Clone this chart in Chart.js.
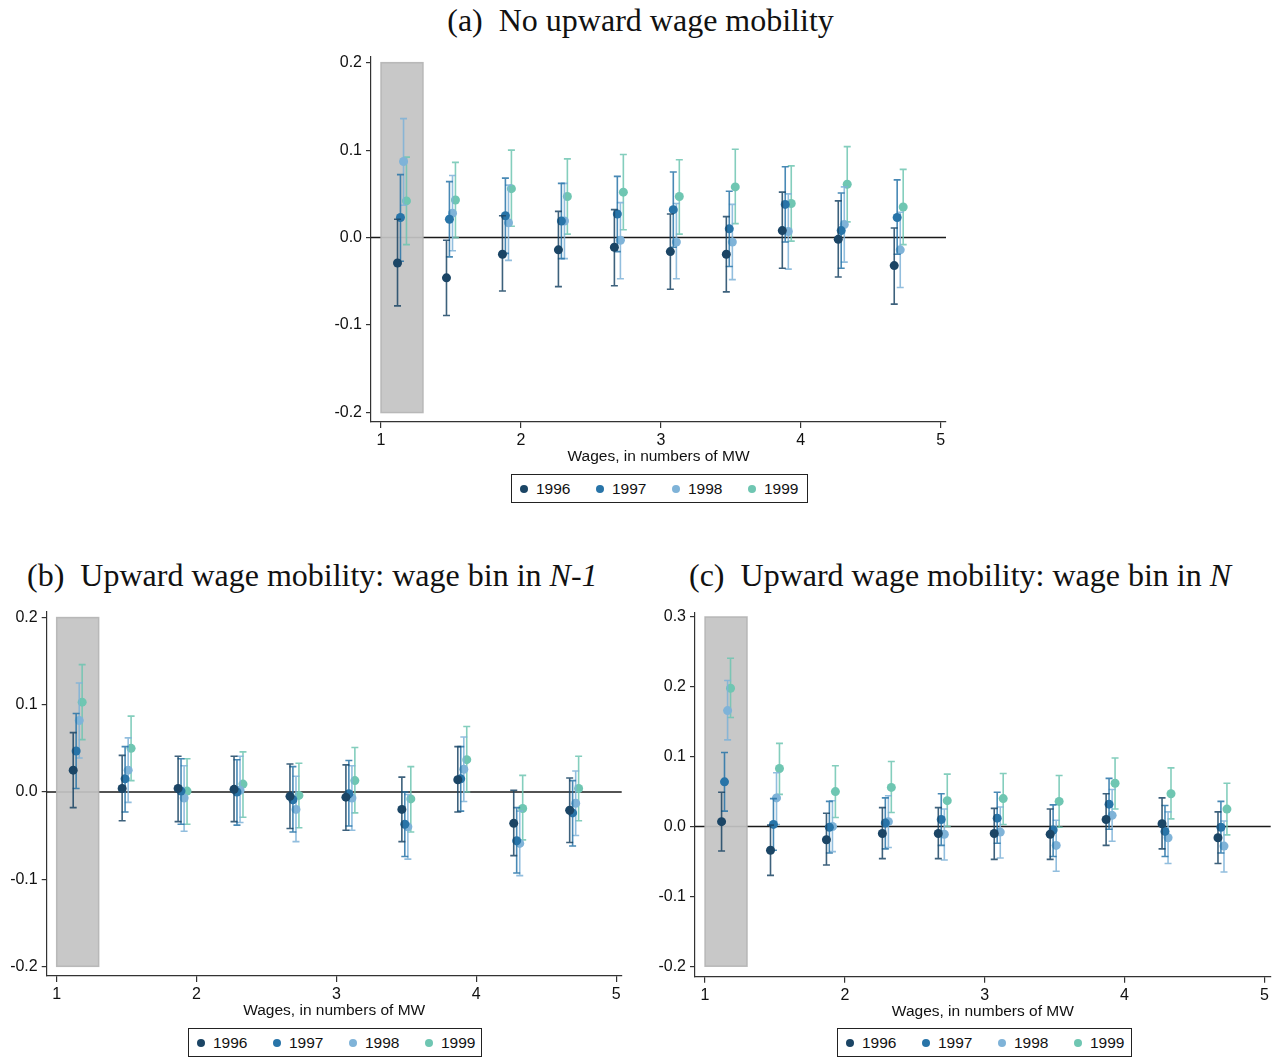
<!DOCTYPE html>
<html>
<head>
<meta charset="utf-8">
<script src="https://cdn.jsdelivr.net/npm/chart.js@4.4.1/dist/chart.umd.min.js"></script>
<style>
    body { margin: 0; background: #fff; width: 1281px; height: 1057px; position: relative; overflow: hidden; }
    canvas { position: absolute; }
    .title { position: absolute; font-family: "Liberation Serif", serif; font-size: 32px; color: #111; white-space: pre; line-height: 36px; }
    .legend { position: absolute; border: 1px solid #222; height: 29px; box-sizing: border-box; display: flex; align-items: center;
              font-family: "Liberation Sans", Arial, sans-serif; font-size: 15.5px; color: #111; padding-left: 8px; }
    .legend span.item { display: flex; align-items: center; width: 76px; flex-shrink: 0; }
    .legend i { display: inline-block; width: 8px; height: 8px; border-radius: 50%; margin-right: 8px; }
</style>
</head>
<body>

<div class="title" id="titleA" style="left:0; width:1281px; top:2px; text-align:center;">(a)  No upward wage mobility</div>
<div class="title" id="titleB" style="left:27px; top:557px;">(b)  Upward wage mobility: wage bin in <i>N-1</i></div>
<div class="title" id="titleC" style="left:689px; top:557px;">(c)  Upward wage mobility: wage bin in <i>N</i></div>

<canvas id="chartA" width="660" height="430" style="left:300px; top:40px;"></canvas>
<canvas id="chartB" width="640" height="434" style="left:0px; top:590px;"></canvas>
<canvas id="chartC" width="631" height="434" style="left:650px; top:590px;"></canvas>

<div class="legend" id="legendA" style="left:511px; top:474px; width:297px;"></div>
<div class="legend" id="legendB" style="left:188px; top:1028px; width:294px;"></div>
<div class="legend" id="legendC" style="left:837px; top:1028px; width:295px;"></div>

<script>
// Series and colours
const years = ['1996', '1997', '1998', '1999'];
const yearColors = ['#1b4565', '#2874a8', '#7fb3d8', '#6fc6b2'];

// Wage bins (in numbers of MW) and the small horizontal shift of each year inside a bin
const binCenters = [1.15, 1.5, 1.9, 2.3, 2.7, 3.1, 3.5, 3.9, 4.3, 4.7];
const yearShift = [-0.032, -0.011, 0.011, 0.032];
const xTicks = [1, 2, 3, 4, 5];

// (a) No upward wage mobility — one row per year
const estA = [
    [-0.029, -0.046, -0.019, -0.014, -0.011, -0.016, -0.019, 0.008, -0.002, -0.032],
    [0.023, 0.021, 0.025, 0.019, 0.027, 0.032, 0.010, 0.038, 0.008, 0.023],
    [0.087, 0.028, 0.017, 0.019, -0.003, -0.005, -0.005, 0.007, 0.015, -0.014],
    [0.042, 0.043, 0.056, 0.047, 0.052, 0.047, 0.058, 0.039, 0.061, 0.035]
];
const loA = [
    [-0.078, -0.089, -0.061, -0.056, -0.055, -0.059, -0.062, -0.035, -0.045, -0.076],
    [-0.027, -0.022, -0.018, -0.024, -0.016, -0.011, -0.033, -0.005, -0.035, -0.019],
    [0.037, -0.015, -0.026, -0.024, -0.047, -0.047, -0.048, -0.036, -0.028, -0.057],
    [-0.008, 0.000, 0.013, 0.004, 0.009, 0.004, 0.016, -0.004, 0.018, -0.008]
];
const hiA = [
    [0.021, -0.003, 0.025, 0.030, 0.032, 0.027, 0.024, 0.052, 0.042, 0.011],
    [0.072, 0.064, 0.068, 0.062, 0.070, 0.075, 0.053, 0.081, 0.051, 0.066],
    [0.136, 0.071, 0.060, 0.062, 0.040, 0.039, 0.038, 0.050, 0.058, 0.029],
    [0.092, 0.086, 0.100, 0.090, 0.095, 0.089, 0.101, 0.082, 0.104, 0.078]
];

// (b) Upward wage mobility: wage bin in N-1
const estB = [
    [0.025, 0.004, 0.004, 0.003, -0.005, -0.006, -0.020, 0.014, -0.036, -0.021],
    [0.047, 0.015, 0.001, 0.000, -0.009, -0.002, -0.037, 0.015, -0.056, -0.024],
    [0.082, 0.025, -0.007, 0.002, -0.020, -0.007, -0.040, 0.026, -0.059, -0.013],
    [0.103, 0.050, 0.001, 0.009, -0.004, 0.013, -0.008, 0.037, -0.019, 0.004]
];
const loB = [
    [-0.018, -0.033, -0.034, -0.034, -0.042, -0.044, -0.057, -0.023, -0.073, -0.058],
    [0.004, -0.023, -0.037, -0.038, -0.046, -0.039, -0.074, -0.022, -0.093, -0.062],
    [0.039, -0.012, -0.045, -0.035, -0.057, -0.044, -0.077, -0.011, -0.096, -0.050],
    [0.060, 0.013, -0.037, -0.029, -0.041, -0.024, -0.046, 0.000, -0.055, -0.033]
];
const hiB = [
    [0.068, 0.042, 0.041, 0.041, 0.032, 0.031, 0.017, 0.052, 0.002, 0.016],
    [0.090, 0.052, 0.038, 0.037, 0.029, 0.036, 0.000, 0.052, -0.018, 0.013],
    [0.125, 0.062, 0.030, 0.041, 0.018, 0.030, -0.003, 0.063, -0.022, 0.024],
    [0.146, 0.087, 0.038, 0.046, 0.033, 0.051, 0.029, 0.075, 0.019, 0.041]
];

// (c) Upward wage mobility: wage bin in N
const estC = [
    [0.007, -0.034, -0.019, -0.010, -0.010, -0.010, -0.011, 0.010, 0.004, -0.016],
    [0.064, 0.003, -0.001, 0.005, 0.010, 0.012, -0.005, 0.032, -0.007, -0.001],
    [0.166, 0.041, 0.000, 0.007, -0.011, -0.008, -0.027, 0.016, -0.016, -0.028],
    [0.198, 0.083, 0.050, 0.056, 0.037, 0.040, 0.036, 0.062, 0.047, 0.025]
];
const loC = [
    [-0.035, -0.070, -0.055, -0.046, -0.046, -0.047, -0.047, -0.027, -0.032, -0.053],
    [0.022, -0.034, -0.038, -0.032, -0.027, -0.024, -0.043, -0.004, -0.043, -0.038],
    [0.124, 0.003, -0.036, -0.030, -0.048, -0.045, -0.064, -0.021, -0.053, -0.065],
    [0.156, 0.046, 0.013, 0.020, 0.000, 0.003, -0.001, 0.025, 0.011, -0.012]
];
const hiC = [
    [0.049, 0.002, 0.019, 0.027, 0.027, 0.026, 0.025, 0.047, 0.041, 0.021],
    [0.106, 0.040, 0.036, 0.041, 0.047, 0.049, 0.031, 0.069, 0.030, 0.036],
    [0.209, 0.077, 0.037, 0.044, 0.025, 0.028, 0.009, 0.053, 0.021, 0.008],
    [0.241, 0.119, 0.087, 0.093, 0.075, 0.076, 0.073, 0.098, 0.084, 0.062]
];

const ticksA = [-0.2, -0.1, 0, 0.1, 0.2];
const ticksC = [-0.2, -0.1, 0, 0.1, 0.2, 0.3];

const axisFont = { family: '"Liberation Sans", Arial, sans-serif', size: 16 };
const titleFont = { family: '"Liberation Sans", Arial, sans-serif', size: 15.5 };

function withAlpha(hex, a) {
    const n = parseInt(hex.slice(1), 16);
    return `rgba(${n >> 16},${(n >> 8) & 255},${n & 255},${a})`;
}

// Zero line, shaded first bin and the confidence intervals, all through the chart scales
const errorBarPlugin = {
    id: 'errorBars',
    beforeDatasetsDraw(chart, args, opts) {
        const { ctx, chartArea, scales: { x, y } } = chart;
        ctx.save();
        // zero line
        ctx.strokeStyle = '#1a1a1a';
        ctx.lineWidth = 1.5;
        const y0 = y.getPixelForValue(0);
        ctx.beginPath();
        ctx.moveTo(chartArea.left, y0);
        ctx.lineTo(chartArea.right, y0);
        ctx.stroke();
        // shaded minimum-wage bin
        const sx0 = x.getPixelForValue(opts.shadeX[0]);
        const sx1 = x.getPixelForValue(opts.shadeX[1]);
        const sy0 = y.getPixelForValue(opts.shadeY[1]);
        const sy1 = y.getPixelForValue(opts.shadeY[0]);
        ctx.fillStyle = 'rgba(196,196,196,0.93)';
        ctx.fillRect(sx0, sy0, sx1 - sx0, sy1 - sy0);
        ctx.strokeStyle = 'rgba(180,180,180,0.9)';
        ctx.lineWidth = 1.5;
        ctx.strokeRect(sx0, sy0, sx1 - sx0, sy1 - sy0);
        ctx.restore();
    },
    beforeDatasetDraw(chart, args) {
        const { ctx, scales: { x, y } } = chart;
        const ds = chart.data.datasets[args.index];
        ctx.save();
        ctx.strokeStyle = withAlpha(ds.backgroundColor, 0.85);
        ctx.lineWidth = 1.6;
        ds.data.forEach(p => {
            const px = x.getPixelForValue(p.x);
            const top = y.getPixelForValue(p.hi);
            const bot = y.getPixelForValue(p.lo);
            ctx.beginPath();
            ctx.moveTo(px, top); ctx.lineTo(px, bot);
            ctx.moveTo(px - 3.5, top); ctx.lineTo(px + 3.5, top);
            ctx.moveTo(px - 3.5, bot); ctx.lineTo(px + 3.5, bot);
            ctx.stroke();
        });
        ctx.restore();
    }
};

function buildDatasets(est, lo, hi) {
    return years.map((year, s) => ({
        label: year,
        data: binCenters.map((c, k) => ({ x: c + yearShift[s], y: est[s][k], lo: lo[s][k], hi: hi[s][k] })),
        backgroundColor: yearColors[s],
        borderColor: yearColors[s],
        borderWidth: 0,
        pointRadius: 4.5,
        showLine: false
    }));
}

function makeChart(canvasId, est, lo, hi, opts) {
    const ctx = document.getElementById(canvasId).getContext('2d');
    return new Chart(ctx, {
        type: 'scatter',
        data: { datasets: buildDatasets(est, lo, hi) },
        options: {
            responsive: false,
            animation: false,
            devicePixelRatio: 1,
            layout: { padding: opts.padding },
            plugins: {
                legend: { display: false },
                tooltip: { enabled: false },
                errorBars: { shadeX: [1, 1.3], shadeY: opts.shadeY }
            },
            scales: {
                x: {
                    type: 'linear',
                    min: opts.xRange[0],
                    max: opts.xRange[1],
                    afterBuildTicks: s => { s.ticks = xTicks.map(v => ({ value: v })); },
                    afterFit: s => { s.height = 44; },
                    grid: { display: true, drawOnChartArea: false, drawTicks: true, tickLength: 6, color: '#333', lineWidth: 1.2 },
                    border: { display: true, color: '#333', width: 1.2 },
                    ticks: { font: axisFont, color: '#111', padding: 3, autoSkip: false, maxRotation: 0, callback: v => v },
                    title: { display: true, text: 'Wages, in numbers of MW', font: titleFont, color: '#111', padding: { top: 0, bottom: 0 } }
                },
                y: {
                    type: 'linear',
                    min: opts.yRange[0],
                    max: opts.yRange[1],
                    afterBuildTicks: s => { s.ticks = opts.yTicks.map(v => ({ value: v })); },
                    afterFit: s => { s.width = 42; },
                    grid: { display: true, drawOnChartArea: false, drawTicks: true, tickLength: 5, color: '#333', lineWidth: 1.2 },
                    border: { display: true, color: '#333', width: 1.2 },
                    ticks: { font: axisFont, color: '#111', padding: 4, autoSkip: false, callback: v => v.toFixed(1) }
                }
            }
        },
        plugins: [errorBarPlugin]
    });
}

function fillLegend(id) {
    const box = document.getElementById(id);
    years.forEach((year, s) => {
        const item = document.createElement('span');
        item.className = 'item';
        item.innerHTML = `<i style="background:${yearColors[s]}"></i>${year}`;
        box.appendChild(item);
    });
}

makeChart('chartA', estA, loA, hiA, {
    padding: { left: 29, top: 17, right: 14, bottom: 4 },
    xRange: [0.9285, 5.038], yRange: [-0.2108, 0.2065], yTicks: ticksA, shadeY: [-0.2, 0.2]
});
makeChart('chartB', estB, loB, hiB, {
    padding: { left: 4.7, top: 22, right: 18.3, bottom: 4 },
    xRange: [0.9285, 5.04], yRange: [-0.2111, 0.2064], yTicks: ticksA, shadeY: [-0.2, 0.2]
});
makeChart('chartC', estC, loC, hiC, {
    padding: { left: 3, top: 23, right: 10.3, bottom: 3.3 },
    xRange: [0.928, 5.045], yRange: [-0.215, 0.3057], yTicks: ticksC, shadeY: [-0.2, 0.3]
});

['legendA', 'legendB', 'legendC'].forEach(fillLegend);
</script>
</body>
</html>
